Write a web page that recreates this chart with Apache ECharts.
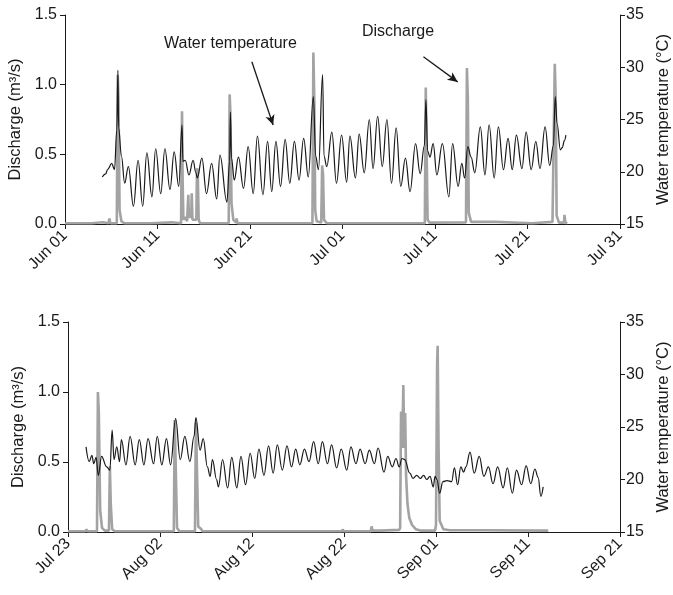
<!DOCTYPE html>
<html>
<head>
<meta charset="utf-8">
<style>
  html, body { margin: 0; padding: 0; background: #fff; }
  #main { width: 673px; height: 595px; }
</style>
<script src="https://cdn.jsdelivr.net/npm/echarts@6/dist/echarts.min.js"></script>
</head>
<body>
<div id="main"></div>
<script>
// x values are days since the first tick of each panel (Jun 01 / Jul 23)
var ticks1 = ['Jun 01', 'Jun 11', 'Jun 21', 'Jul 01', 'Jul 11', 'Jul 21', 'Jul 31'];
var ticks2 = ['Jul 23', 'Aug 02', 'Aug 12', 'Aug 22', 'Sep 01', 'Sep 11', 'Sep 21'];

// water temperature (°C), panel 1
var temp1 = [
  [4.03,19.5],[4.4,19.8],[4.6,20.2],[5.05,20.8],[5.35,20.2],[5.6,24.0],[5.72,29.7],[5.8,24.2],[6.1,21.5],
  [6.45,18.9],[6.85,20.5],[7.4,16.7],[7.9,21.1],[8.4,16.7],[8.85,21.8],[9.4,17.6],[9.8,22.2],[10.35,17.9],
  [10.8,22.2],[11.35,18.3],[11.8,21.9],[12.3,18.6],[12.65,24.5],[12.75,21.0],[13.0,21.1],[13.4,19.7],
  [13.85,21.1],[14.15,19.9],[14.3,19.4],[14.8,21.3],[15.3,17.9],[15.85,20.8],[16.4,17.4],[16.75,21.6],
  [17.5,17.1],[17.8,21.0],[17.88,25.7],[18.0,21.3],[18.3,19.2],[18.75,21.4],[19.3,18.4],[19.8,22.4],
  [20.35,17.9],[20.8,23.4],[21.4,17.8],[21.9,22.9],[22.35,18.1],[22.8,22.9],[23.3,18.6],[23.8,23.1],
  [24.3,18.9],[24.8,22.9],[25.3,19.2],[25.8,23.2],[26.3,19.5],[26.85,27.2],[27.1,21.5],[27.4,20.2],
  [27.85,29.3],[28.0,21.5],[28.3,20.5],[28.85,23.8],[29.35,18.9],[29.9,23.5],[30.45,19.0],[30.8,23.4],
  [31.4,19.4],[31.8,23.6],[32.35,19.9],[32.9,25.0],[33.3,20.3],[33.8,25.3],[34.3,20.5],[34.8,25.0],
  [35.3,18.9],[35.8,24.2],[36.3,18.6],[36.8,21.3],[37.3,18.1],[37.9,22.7],[38.4,19.8],[38.85,22.5],
  [39.02,26.9],[39.2,22.0],[39.45,21.4],[39.8,22.7],[40.2,19.7],[40.8,22.7],[41.5,17.6],[41.9,22.7],
  [42.5,18.6],[42.9,20.8],[43.2,19.4],[43.55,22.4],[43.9,21.4],[44.3,19.9],[44.9,24.3],[45.4,19.7],
  [45.85,24.5],[46.4,19.4],[46.85,24.3],[47.4,20.2],[47.9,23.2],[48.35,20.2],[48.8,23.5],[49.4,20.3],
  [49.85,23.8],[50.4,20.2],[50.9,22.9],[51.35,20.3],[51.9,24.3],[52.4,20.6],[52.8,22.5],[53.0,27.2],
  [53.2,24.6],[53.55,22.1],[53.75,22.3],[54.0,23.0],[54.15,23.5]
];

// discharge (m3/s), panel 1
var flow1 = [
  [0,0.005],[2.9,0.005],[2.95,0.012],[4.1,0.012],[4.15,0.005],[4.7,0.005],[4.8,0.04],[4.9,0.005],
  [5.6,0.005],[5.7,1.07],[5.78,0.9],[5.9,0.1],[6.1,0.02],[6.4,0.005],[7.8,0.005],[7.85,0.015],[8.0,0.005],
  [9.3,0.005],[9.35,0.012],[11.5,0.012],[11.55,0.005],[12.55,0.005],[12.65,0.81],[12.72,0.3],[12.8,0.03],
  [13.0,0.05],[13.2,0.02],[13.28,0.03],[13.33,0.21],[13.4,0.05],[13.65,0.05],[13.7,0.22],[13.78,0.03],
  [14.2,0.03],[14.27,0.40],[14.35,0.38],[14.45,0.03],[14.6,0.005],[17.7,0.005],[17.8,0.93],[17.88,0.8],
  [18.0,0.15],[18.2,0.03],[18.5,0.01],[18.55,0.04],[18.65,0.005],[19.3,0.005],[19.35,0.015],[19.45,0.005],
  [20.5,0.005],[20.55,0.015],[20.65,0.005],[26.75,0.005],[26.85,1.23],[26.95,0.9],[27.05,0.1],[27.2,0.02],
  [27.7,0.01],[27.8,0.42],[27.9,0.35],[28.0,0.03],[28.3,0.005],[32.5,0.005],[32.55,0.012],[32.65,0.005],
  [38.9,0.005],[39.0,0.98],[39.08,0.6],[39.2,0.03],[39.4,0.01],[39.45,0.012],[43.35,0.012],[43.45,1.12],
  [43.55,0.9],[43.65,0.08],[43.9,0.015],[46.5,0.015],[46.55,0.005],[50.5,0.005],[50.55,0.015],[52.7,0.015],
  [52.9,0.01],[52.95,1.15],[53.05,0.9],[53.15,0.06],[53.4,0.01],[53.95,0.01],[54.0,0.065],[54.1,0.01],
  [54.3,0.005]
];

// water temperature (°C), panel 2
var temp2 = [
  [1.96,23.1],[2.3,21.7],[2.6,22.3],[2.8,21.5],[3.05,22.1],[3.3,20.4],[3.65,22.2],[4.2,21.2],[4.55,20.9],
  [4.8,24.7],[5.0,21.9],[5.3,23.1],[5.6,21.7],[5.8,23.8],[6.3,21.4],[6.75,24.1],[7.3,21.4],[7.75,23.8],
  [8.25,21.4],[8.7,23.9],[9.3,21.5],[9.7,24.1],[10.2,21.4],[10.7,23.9],[11.15,21.4],[11.7,25.8],[12.2,21.9],
  [12.7,24.1],[13.25,21.7],[13.7,24.1],[13.9,25.9],[14.35,22.8],[14.7,23.9],[15.15,21.2],[15.45,20.3],
  [15.7,21.9],[16.15,20.0],[16.35,19.3],[16.8,21.9],[17.35,19.2],[17.8,22.1],[18.35,19.2],[18.8,22.2],
  [19.3,19.5],[19.8,22.5],[20.3,20.1],[20.75,22.9],[21.3,20.4],[21.8,23.2],[22.3,20.6],[22.75,23.3],
  [23.3,20.9],[23.8,23.2],[24.3,21.2],[24.75,22.9],[25.2,21.4],[25.7,22.9],[26.2,21.7],[26.7,23.6],
  [27.2,21.5],[27.65,23.6],[28.2,21.5],[28.65,23.3],[29.2,21.1],[29.7,22.9],[30.3,20.9],[30.75,23.1],
  [31.3,21.5],[31.75,22.9],[32.3,21.5],[32.75,22.8],[33.3,21.5],[33.7,23.0],[34.35,20.7],[34.75,22.2],
  [35.25,21.2],[35.65,22.0],[36.0,21.2],[36.3,22.0],[36.6,21.9],[37.15,20.6],[37.5,20.1],[37.9,20.4],
  [38.3,20.1],[38.65,20.4],[39.0,20.0],[39.35,20.3],[39.7,19.3],[39.9,20.3],[40.1,20.0],[40.4,18.7],
  [40.75,19.8],[41.2,19.9],[41.7,19.8],[42.0,21.1],[42.35,19.5],[42.7,21.2],[43.0,20.7],[43.25,21.2],
  [43.7,22.6],[44.15,20.6],[44.7,22.2],[45.2,20.3],[45.7,21.2],[46.2,19.6],[46.7,21.2],[47.3,19.2],
  [47.75,21.1],[48.3,18.7],[48.75,20.9],[49.3,19.5],[49.8,21.3],[50.3,19.6],[50.75,21.0],[51.1,20.2],
  [51.4,18.4],[51.65,19.3]
];

// discharge (m3/s), panel 2
var flow2 = [
  [0,0.005],[1.9,0.005],[2.0,0.02],[2.1,0.005],[3.15,0.005],[3.25,1.0],[3.35,0.85],[3.5,0.15],[3.7,0.03],
  [4.0,0.01],[4.45,0.01],[4.55,0.47],[4.65,0.2],[4.8,0.02],[5.1,0.005],[7.9,0.005],[7.95,0.012],[8.05,0.005],
  [11.5,0.005],[11.6,0.8],[11.7,0.5],[11.85,0.03],[12.1,0.005],[13.8,0.005],[13.9,0.78],[14.0,0.5],
  [14.15,0.04],[14.5,0.02],[14.6,0.005],[20.0,0.005],[20.05,0.012],[20.15,0.005],[27.2,0.005],[27.25,0.015],
  [27.35,0.005],[29.8,0.005],[29.85,0.02],[29.95,0.005],[32.9,0.005],[33.0,0.04],[33.1,0.01],[34.0,0.01],
  [34.1,0.015],[36.0,0.015],[36.1,0.03],[36.2,0.86],[36.32,0.6],[36.45,1.05],[36.55,0.6],[36.65,0.85],
  [36.75,0.4],[36.9,0.2],[37.1,0.1],[37.4,0.05],[37.8,0.02],[38.3,0.01],[39.9,0.01],[40.0,0.05],
  [40.12,1.2],[40.18,1.33],[40.28,0.6],[40.4,0.08],[40.8,0.02],[41.5,0.012],[45,0.012],[52.2,0.01]
];

var chart = echarts.init(document.getElementById('main'));

var FONT = 'Liberation Sans, Arial, sans-serif';
var INK = '#1a1a1a';
var GREY = '#a3a3a3';

function xAxisFor(grid, labels) {
  return {
    type: 'value', gridIndex: grid, min: 0, max: 60, interval: 10,
    splitLine: { show: false },
    axisLine: { lineStyle: { color: INK, width: 1 } },
    axisTick: { length: 5, lineStyle: { color: INK } },
    axisLabel: {
      rotate: 45, margin: 9, color: INK, fontSize: 16, fontFamily: FONT,
      formatter: function (v) { return labels[Math.round(v / 10)]; }
    }
  };
}

function leftAxis(grid) {
  return {
    type: 'value', gridIndex: grid, min: 0, max: 1.5, interval: 0.5, position: 'left',
    name: 'Discharge (m³/s)', nameLocation: 'middle', nameGap: 36, nameRotate: 90,
    nameTextStyle: { color: INK, fontSize: 16.5, fontFamily: FONT },
    splitLine: { show: false },
    axisLine: { show: true, lineStyle: { color: INK } },
    axisTick: { show: true, length: 5, lineStyle: { color: INK } },
    axisLabel: { color: INK, fontSize: 16, fontFamily: FONT, margin: 8,
      formatter: function (v) { return v.toFixed(1); } }
  };
}

function rightAxis(grid) {
  return {
    type: 'value', gridIndex: grid, min: 15, max: 35, interval: 5, position: 'right',
    name: 'Water temperature (°C)', nameLocation: 'middle', nameGap: 28, nameRotate: 90,
    nameTextStyle: { color: INK, fontSize: 16.5, fontFamily: FONT },
    splitLine: { show: false },
    axisLine: { show: true, lineStyle: { color: INK } },
    axisTick: { show: true, length: 5, lineStyle: { color: INK } },
    axisLabel: { color: INK, fontSize: 16, fontFamily: FONT, margin: 6 }
  };
}

function arrow(from, to) {
  return {
    silent: true, symbol: ['none', 'arrow'], symbolSize: [7, 10],
    label: { show: false },
    lineStyle: { color: INK, width: 1.3, type: 'solid' },
    data: [[{ coord: from }, { coord: to }]]
  };
}

var option = {
  animation: false,
  backgroundColor: '#fff',
  grid: [
    { left: 65, right: 53, top: 15, height: 209, outerBoundsMode: 'none' },
    { left: 68, right: 53, top: 322, height: 210, outerBoundsMode: 'none' }
  ],
  xAxis: [xAxisFor(0, ticks1), xAxisFor(1, ticks2)],
  yAxis: [leftAxis(0), rightAxis(0), leftAxis(1), rightAxis(1)],
  graphic: [
    { type: 'text', left: 164, top: 36, style: { text: 'Water temperature', fill: INK, font: '16px ' + FONT } },
    { type: 'text', left: 362, top: 24, style: { text: 'Discharge', fill: INK, font: '16px ' + FONT } }
  ],
  series: [
    {
      type: 'line', xAxisIndex: 0, yAxisIndex: 0, data: flow1, showSymbol: false, z: 2,
      lineStyle: { color: GREY, width: 2.6 },
      markLine: arrow([38.75, 1.20], [42.45, 1.02])
    },
    {
      type: 'line', xAxisIndex: 0, yAxisIndex: 1, data: temp1, showSymbol: false, z: 3,
      smooth: 0.4, smoothMonotone: 'x',
      lineStyle: { color: INK, width: 1.2 },
      markLine: arrow([20.2, 1.165 * 20 / 1.5 + 15], [22.5, 0.71 * 20 / 1.5 + 15])
    },
    {
      type: 'line', xAxisIndex: 1, yAxisIndex: 2, data: flow2, showSymbol: false, z: 2,
      lineStyle: { color: GREY, width: 2.6 }
    },
    {
      type: 'line', xAxisIndex: 1, yAxisIndex: 3, data: temp2, showSymbol: false, z: 3,
      smooth: 0.4, smoothMonotone: 'x',
      lineStyle: { color: INK, width: 1.2 }
    }
  ]
};

chart.setOption(option);
</script>
</body>
</html>
